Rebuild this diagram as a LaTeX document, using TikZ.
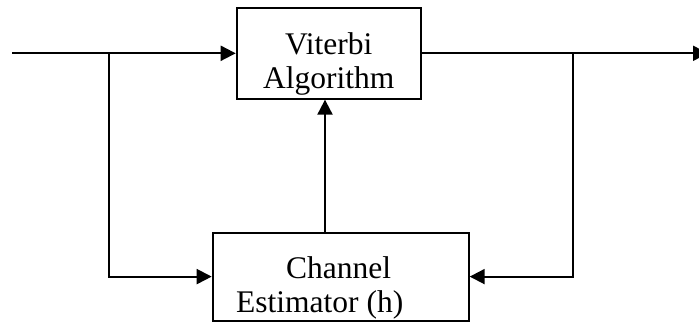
\documentclass[tikz,border=0pt]{standalone}
\usepackage{fontspec}
\setmainfont{Liberation Serif}
\usetikzlibrary{arrows.meta}
\begin{document}
\begin{tikzpicture}[x=1pt,y=-1pt,
  blockbox/.style={draw, line width=2pt, inner sep=0pt},
  wire/.style={line width=2pt},
  flow/.style={wire, -{Triangle[length=15pt,width=15pt]}},
  label/.style={anchor=base, inner sep=0pt, font=\fontsize{31.5pt}{36pt}\selectfont}]
  % page frame
  \clip (0,0) rectangle (699,322);
  \useasboundingbox (0,0) rectangle (699,322);

  % blocks
  \node[blockbox, minimum width=184pt, minimum height=90.7pt] (va) at (328.7,53.3) {};
  \node[blockbox, minimum width=256pt, minimum height=88pt] (ce) at (340.7,276.6) {};

  \node[label] (vaA) at (328.7,54) {Viterbi};
  \node[label] (vaB) at (328.7,88) {Algorithm};
  \node[label, anchor=base west] (ceA) at (286,278) {Channel};
  \node[label, anchor=base west] (ceB) at (236,312) {Estimator (h)};

  % signal path
  \coordinate (in) at (12,53.3);
  \coordinate (lsplit) at (109.3,53.3);
  \coordinate (rsplit) at (572.7,53.3);
  \coordinate (out) at (708,53.3);
  \coordinate (vx) at (325,0);

  \draw[flow] (in) -- (va.west);
  \draw[flow] (va.east) -- (out);
  \draw[flow] (lsplit) |- (ce.west);
  \draw[flow] (rsplit) |- (ce.east);
  \draw[flow] (vx |- ce.north) -- (vx |- va.south);
\end{tikzpicture}
\end{document}
